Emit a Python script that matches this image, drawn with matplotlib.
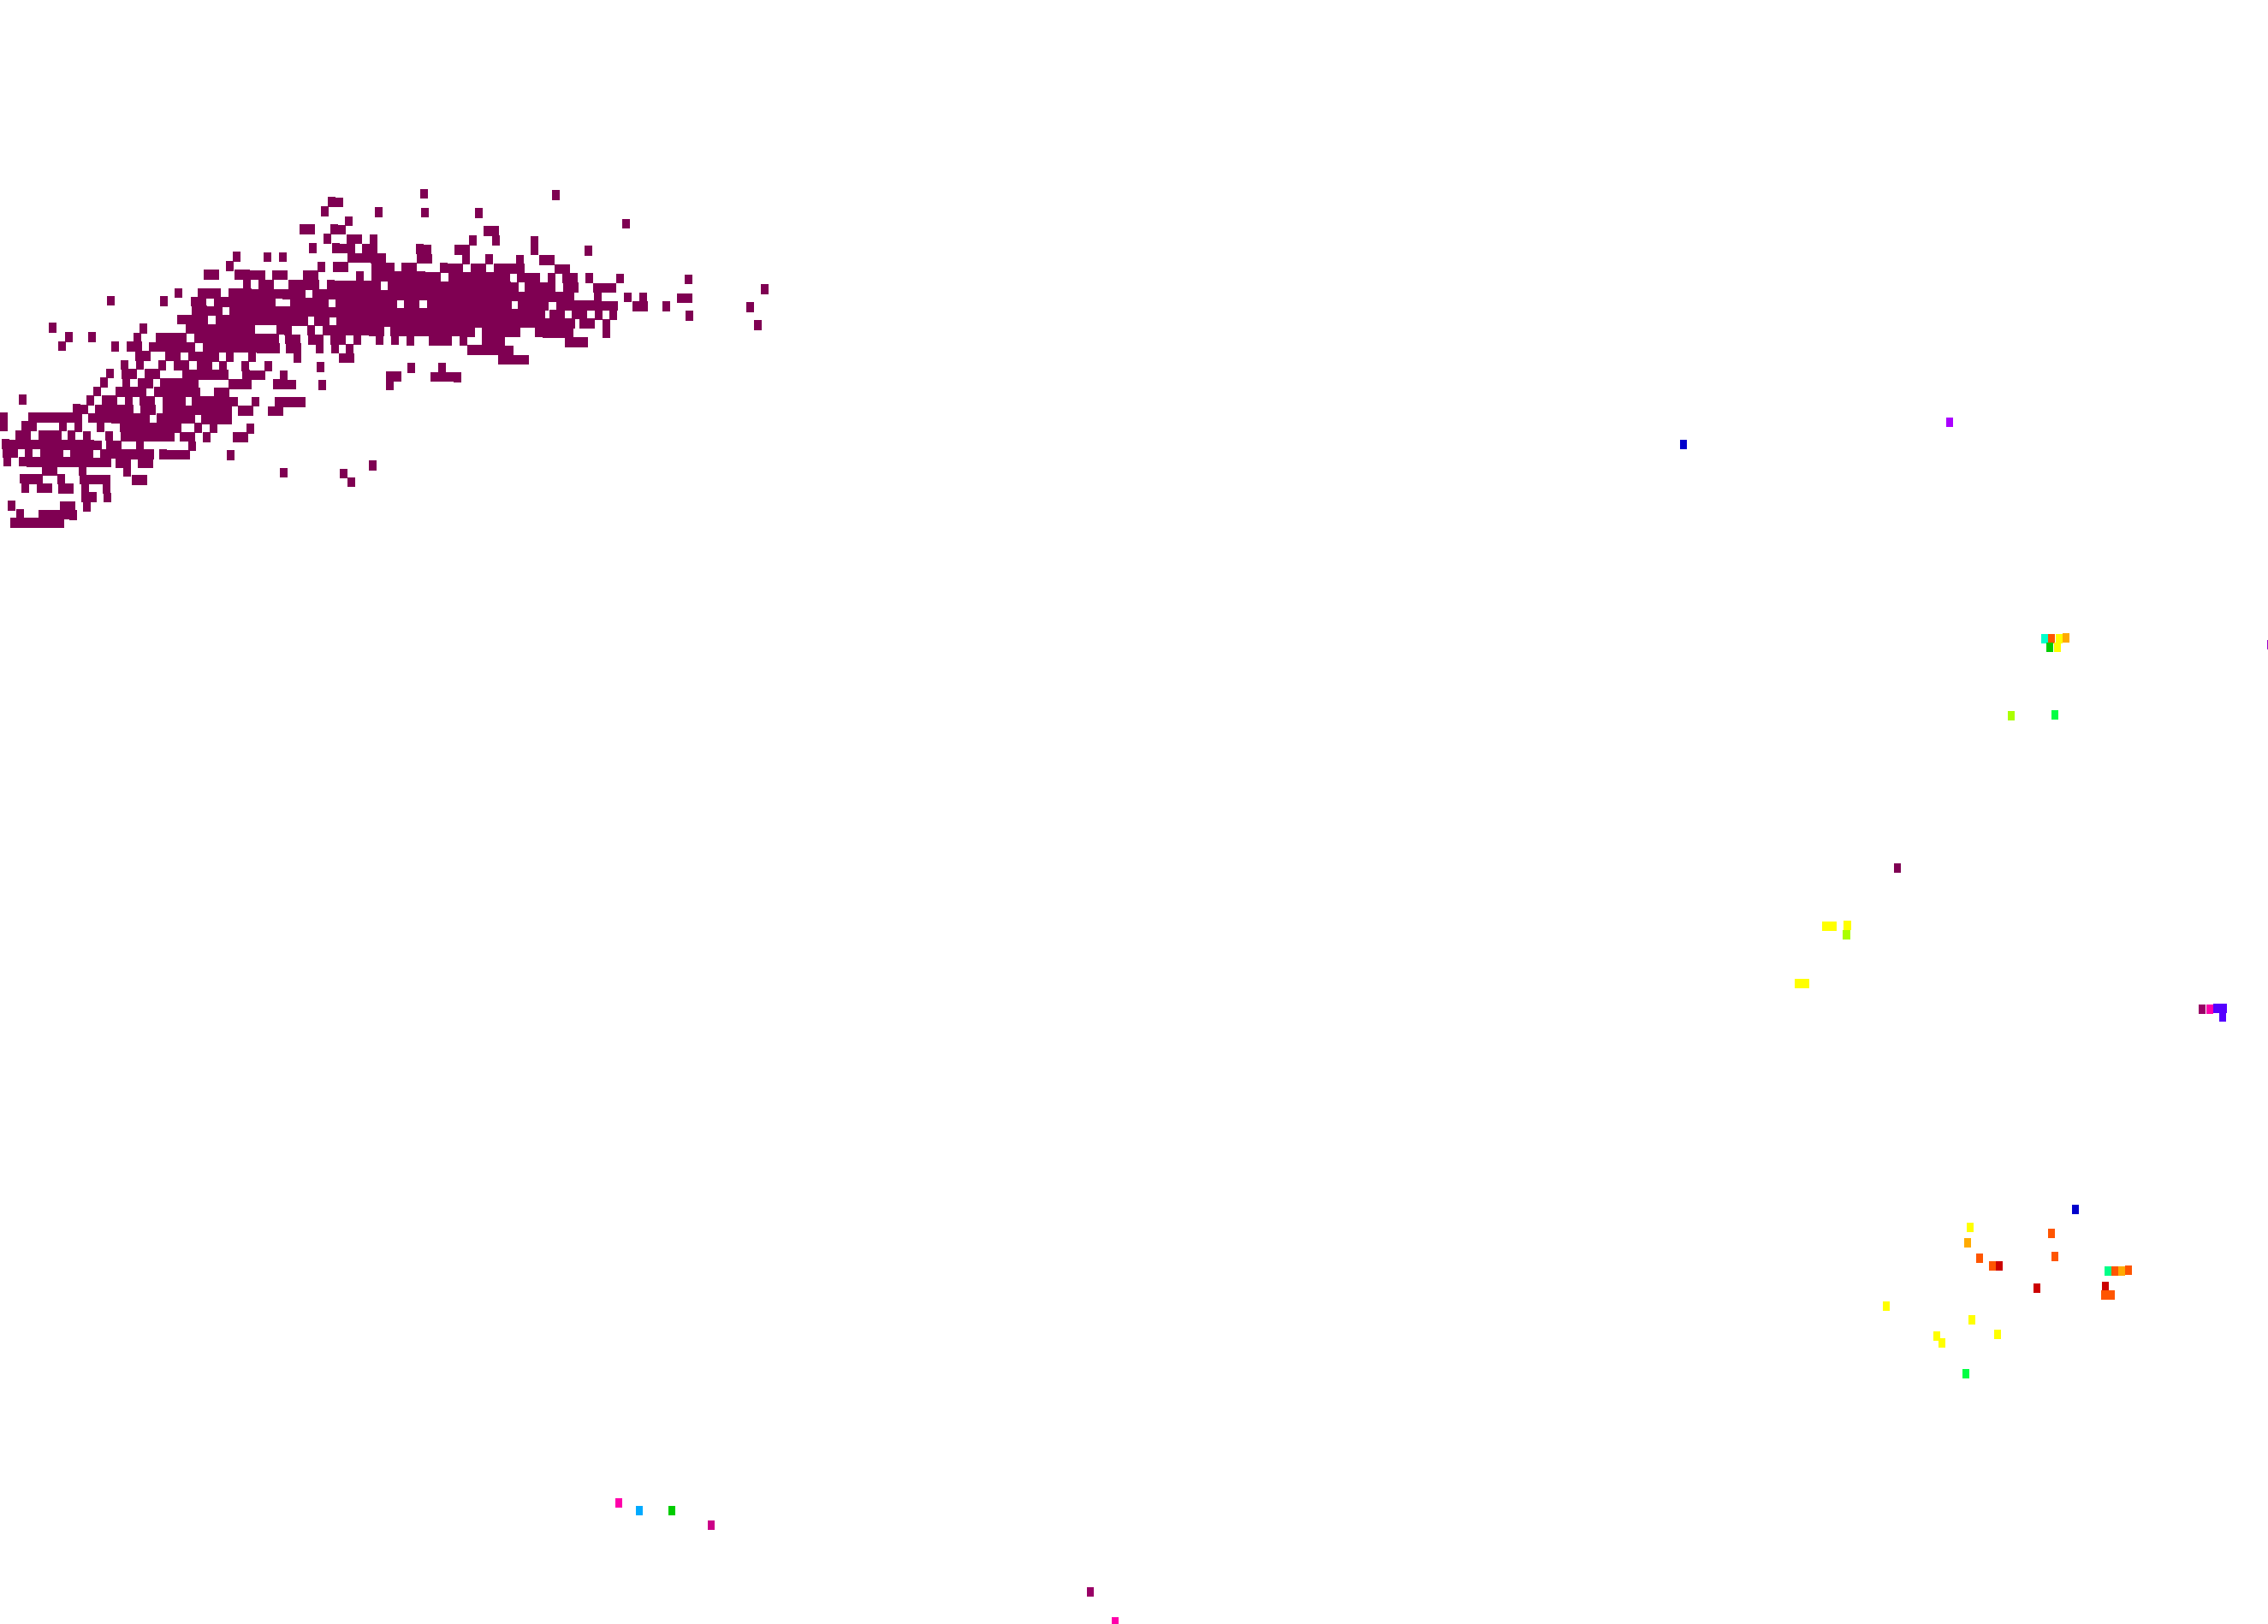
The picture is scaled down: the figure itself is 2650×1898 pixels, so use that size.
import matplotlib
matplotlib.use("Agg")
import matplotlib.pyplot as plt
import numpy as np

# rows of the dense cluster: top of each row, then (first x, number of cells)
row_y = [220, 231, 242, 253, 263, 274, 285, 296, 306.7, 317, 328, 339, 349,
         359.5, 370, 381, 391.7, 402.3, 413, 423.7, 434, 444.7, 455, 465.3,
         476, 486, 496.6, 507, 517.8, 528, 538, 548, 558, 568.7, 578.7,
         589.5, 599.5, 609.5]

row_runs = [
    [(491, 1), (645, 1)],
    [(383, 2)],
    [(375, 1), (438, 1), (492, 1), (555, 1)],
    [(403, 1), (727, 1)],
    [(350, 2), (386, 2), (565, 2)],
    [(378, 1), (405, 2), (432, 1), (548, 1), (575, 1), (620, 1)],
    [(361, 1), (388, 3), (423, 2), (486, 2), (531, 2), (620, 1), (683, 1)],
    [(272, 1), (308, 1), (326, 1), (406, 5), (487, 2), (540, 1), (567, 1), (603, 1), (630, 2)],
    [(264, 1), (371, 1), (389, 2), (434, 3), (469, 2), (514, 3), (550, 2), (577, 4), (648, 2)],
    [(238, 2), (274, 4), (318, 2), (354, 2), (416, 1), (434, 9), (524, 8), (604, 3), (640, 1),
     (657, 2), (684, 1), (720, 1), (800, 1)],
    [(284, 1), (302, 2), (337, 4), (382, 7), (453, 17), (613, 4), (658, 2), (693, 3), (889, 1)],
    [(204, 1), (231, 3), (267, 10), (365, 34), (694, 1), (729, 1), (747, 1), (791, 2)],
    [(125, 1), (187, 1), (223, 2), (250, 8), (339, 5), (392, 8), (472, 2), (499, 11), (605, 4),
     (650, 8), (739, 2), (774, 1), (872, 1)],
    [(224, 4), (268, 41), (642, 2), (668, 2), (695, 1), (712, 1), (801, 1)],
    [(207, 4), (252, 12), (367, 2), (393, 31), (677, 2), (704, 1), (881, 1)],
    [(57, 1), (163, 1), (217, 9), (323, 2), (359, 1), (377, 8), (456, 11), (563, 5), (625, 5), (704, 1)],
    [(76, 1), (103, 1), (156, 1), (182, 4), (227, 11), (333, 2), (360, 2), (386, 2), (413, 1),
     (439, 1), (457, 1), (475, 1), (501, 3), (537, 1), (563, 3), (660, 3)],
    [(68, 1), (130, 1), (148, 2), (174, 6), (237, 10), (334, 2), (369, 1), (387, 1), (404, 1), (546, 6)],
    [(158, 2), (193, 2), (220, 4), (264, 1), (290, 1), (343, 1), (396, 2), (582, 4)],
    [(141, 1), (159, 1), (185, 1), (203, 2), (230, 2), (256, 1), (282, 1), (309, 1), (370, 1),
     (476, 1), (512, 1)],
    [(124, 1), (142, 2), (169, 2), (213, 6), (283, 3), (327, 1), (451, 2), (503, 4)],
    [(117, 1), (143, 1), (161, 2), (187, 5), (267, 3), (319, 3), (372, 1), (451, 1)],
    [(109, 1), (135, 4), (180, 6), (250, 2)],
    [(22, 1), (101, 1), (119, 2), (146, 1), (163, 2), (190, 3), (224, 6), (294, 1), (321, 4)],
    [(85, 2), (111, 5), (164, 2), (190, 9), (278, 2), (313, 2)],
    [(0, 1), (33, 7), (103, 8), (183, 5), (235, 4)],
    [(0, 1), (25, 2), (69, 1), (87, 1), (113, 1), (140, 8), (227, 1), (245, 1), (288, 1)],
    [(18, 2), (45, 3), (79, 1), (97, 1), (123, 1), (141, 7), (210, 2), (237, 1), (272, 2)],
    [(2, 13), (124, 2), (159, 1), (220, 1)],
    [(3, 2), (29, 1), (47, 3), (82, 3), (117, 7), (186, 4), (265, 1)],
    [(4, 1), (22, 12), (135, 2), (161, 2), (431, 1)],
    [(49, 2), (92, 1), (144, 1), (327, 1), (397, 1)],
    [(23, 3), (67, 1), (93, 4), (154, 2), (406, 1)],
    [(25, 1), (43, 2), (68, 2), (95, 1), (120, 1)],
    [(95, 2), (121, 1)],
    [(9, 1), (70, 2), (97, 1)],
    [(19, 1), (45, 5)],
    [(12, 7)],
]

# colour classes
class_colors = ["#7f0052", "#990066", "#cc0088", "#ff00aa", "#aa00ff", "#5500ff",
                "#0000cc", "#00aaff", "#00ffcc", "#00ff88", "#00ff44", "#00cc00",
                "#aaff00", "#ffff00", "#ffaa00", "#ff5500", "#cc0000", "#9900cc"]

# scattered cells outside the cluster
point_x = [723, 747, 785, 831, 1274, 1303, 1967, 2278, 2217, 2350, 2653,
           2389, 2397, 2406, 2414, 2395, 2404, 2401,
           2133.5, 2142, 2158.7, 2157.5, 2101.3, 2109.7,
           2573, 2582, 2590, 2598, 2597,
           2425, 2302, 2299, 2397, 2313, 2401, 2328, 2336, 2463, 2471, 2479, 2487,
           2380, 2460, 2459, 2467, 2204, 2304, 2334, 2263, 2269, 2297]
point_y = [1756, 1765, 1765, 1782, 1860, 1895, 519, 493, 1014, 836, 753,
           746, 746, 746, 745, 756, 756, 835,
           1082, 1082, 1081, 1092, 1149, 1149,
           1179, 1179, 1178, 1178, 1188,
           1413, 1434, 1452, 1441, 1470, 1468, 1479, 1479, 1485, 1485, 1485, 1484,
           1505, 1503, 1513, 1513, 1526, 1542, 1559, 1561, 1569, 1605]
point_class = [3, 7, 11, 2, 1, 3, 6, 4, 0, 12, 17,
               8, 15, 13, 14, 11, 13, 10,
               13, 13, 13, 12, 13, 13,
               1, 3, 5, 5, 5,
               6, 13, 14, 15, 15, 15, 15, 16, 9, 15, 14, 15,
               16, 16, 15, 15, 13, 13, 13, 13, 13, 10]

cluster_x = []
cluster_y = []
for top, runs in zip(row_y, row_runs):
    for start, n in runs:
        for i in range(n):
            cx = start + i * 9.0
            cluster_x.append(cx)
            cluster_y.append(top + 0.01 * (cx - 400))

fig = plt.figure(figsize=(26.5, 18.99), dpi=100)
ax = fig.add_axes([0, 0, 1, 1])
ax.set_xlim(0, 2650)
ax.set_ylim(1899, 0)
ax.axis("off")

# y axis is inverted, so a bar grows downwards from its top edge
ax.bar(cluster_x, 11.6, width=9.4, bottom=np.array(cluster_y) + 0.6, align="edge",
       color=class_colors[0], linewidth=0, antialiased=False)

point_colors = [class_colors[k] for k in point_class]
ax.bar(point_x, 10.4, width=8.8, bottom=np.array(point_y) - 3.8, align="center",
       color=point_colors, linewidth=0, antialiased=False)

fig.savefig("out.png", dpi=100)
